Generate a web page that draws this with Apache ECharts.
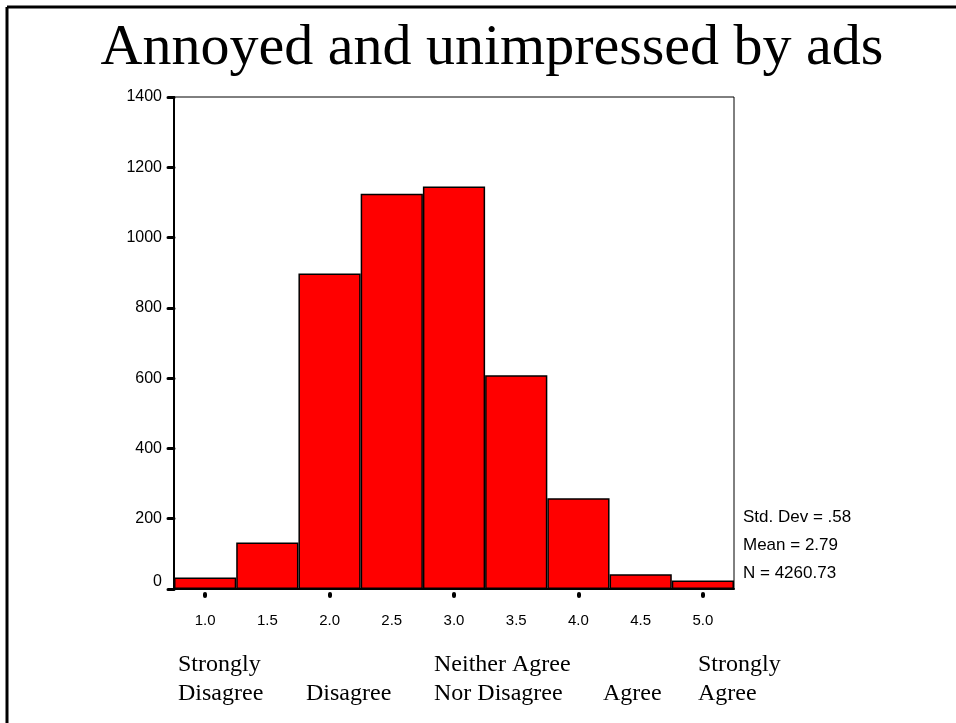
<!DOCTYPE html>
<html>
<head>
<meta charset="utf-8">
<title>Annoyed and unimpressed by ads</title>
<script src="https://cdn.jsdelivr.net/npm/echarts@6/dist/echarts.min.js"></script>
<style>
  html, body { margin: 0; padding: 0; background: #fff; }
  #chart { width: 956px; height: 723px; }
</style>
</head>
<body>
<div id="chart"></div>
<script>
// histogram bins (midpoints) and counts
const binLabels = ['1.0', '1.5', '2.0', '2.5', '3.0', '3.5', '4.0', '4.5', '5.0'];
const counts = [33, 132, 898, 1125, 1145, 608, 258, 42, 24];

const yTicks = { min: 0, max: 1400, step: 200 };

// scale descriptions under the axis
const scaleLines = [
  { text: 'Strongly\nDisagree', left: 178 },
  { text: 'Disagree', left: 306, single: true },
  { text: 'Neither Agree\nNor Disagree', left: 434 },
  { text: 'Agree', left: 603, single: true },
  { text: 'Strongly\nAgree', left: 698 }
];

const stats = ['Std. Dev = .58', 'Mean = 2.79', 'N = 4260.73'];

const chart = echarts.init(document.getElementById('chart'));

const serif = '"Liberation Serif", "Times New Roman", serif';
const sans = '"Liberation Sans", Arial, sans-serif';

const graphics = [
  // outer frame (top + left only, like the slide)
  { type: 'line', shape: { x1: 7, y1: 7, x2: 956, y2: 7 }, style: { stroke: '#000', lineWidth: 3 } },
  { type: 'line', shape: { x1: 7, y1: 7, x2: 7, y2: 723 }, style: { stroke: '#000', lineWidth: 3 } }
];

scaleLines.forEach(s => {
  graphics.push({
    type: 'text',
    left: s.left,
    top: s.single ? 679 : 650,
    style: { text: s.text, font: '24px ' + serif, fill: '#000', lineHeight: 29 }
  });
});

stats.forEach((t, i) => {
  graphics.push({
    type: 'text',
    left: 743,
    top: 509 + i * 28,
    style: { text: t, font: '17px ' + sans, fill: '#000' }
  });
});

chart.setOption({
  animation: false,
  backgroundColor: '#fff',
  title: {
    text: 'Annoyed and unimpressed by ads',
    left: 487,
    top: 15,
    textAlign: 'center',
    textStyle: { fontFamily: serif, fontSize: 58, fontWeight: 'normal', color: '#000' }
  },
  grid: {
    left: 174, right: 222, top: 97, bottom: 134,
    show: true, borderColor: '#000', borderWidth: 1, backgroundColor: '#fff'
  },
  xAxis: [
    {
      type: 'category',
      data: binLabels,
      boundaryGap: true,
      axisLine: { show: true, lineStyle: { color: '#000', width: 2 } },
      axisTick: { show: false },
      axisLabel: { margin: 24, color: '#000', fontFamily: sans, fontSize: 15, interval: 0 }
    },
    {
      // integer tick dots, set a little below the axis line
      type: 'category',
      data: binLabels,
      position: 'bottom',
      offset: 5,
      boundaryGap: true,
      axisLine: { show: false },
      axisTick: {
        show: true, alignWithLabel: true, length: 2,
        interval: (idx) => idx % 2 === 0,
        lineStyle: { color: '#000', width: 4, cap: 'round' }
      },
      axisLabel: { show: false }
    }
  ],
  yAxis: {
    type: 'value',
    min: yTicks.min,
    max: yTicks.max,
    interval: yTicks.step,
    splitLine: { show: false },
    axisLine: { show: true, lineStyle: { color: '#000', width: 2 } },
    axisTick: { show: true, length: 6, lineStyle: { color: '#000', width: 3, cap: 'round' } },
    axisLabel: {
      margin: 12,
      color: '#000',
      fontFamily: sans,
      fontSize: 16,
      formatter: v => (v === 0 ? '{z|0}' : String(v)),
      rich: { z: { fontFamily: sans, fontSize: 16, color: '#000', padding: [0, 0, 14, 0] } }
    }
  },
  series: [
    {
      type: 'bar',
      data: counts,
      xAxisIndex: 0,
      barWidth: '100%',
      itemStyle: { color: '#ff0000', borderColor: '#000', borderWidth: 1.5 }
    }
  ],
  graphic: graphics
});
</script>
</body>
</html>
